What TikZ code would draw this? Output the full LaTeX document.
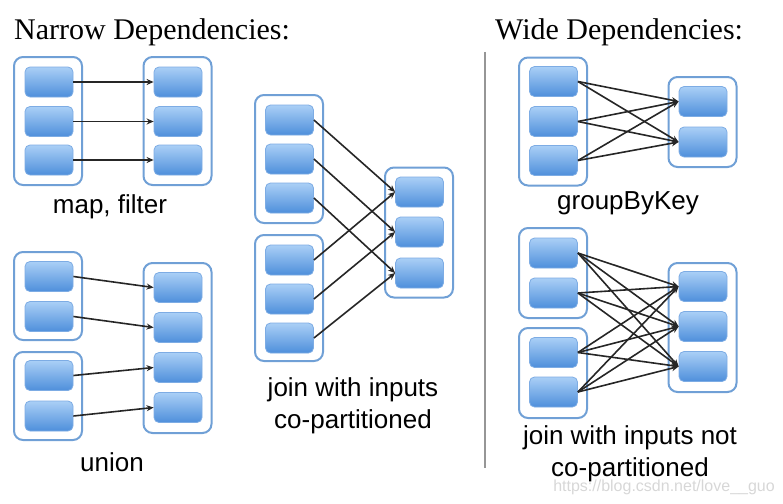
\documentclass[tikz,border=0pt]{standalone}
\usepackage{fontspec}
\setmainfont{Liberation Serif}
\setsansfont{Liberation Sans}
\usetikzlibrary{arrows.meta}
\definecolor{ptop}{RGB}{170,207,246}
\definecolor{pbot}{RGB}{78,143,219}
\definecolor{partb}{RGB}{125,172,228}
\definecolor{rddb}{RGB}{112,160,214}
\definecolor{sepline}{RGB}{150,150,150}
\definecolor{wmark}{RGB}{215,215,215}
\tikzset{
  part/.style={draw=partb, line width=0.8pt, rounded corners=5pt, top color=ptop, bottom color=pbot, minimum width=48pt, minimum height=30pt, inner sep=0pt},
  rdd/.style={draw=rddb, line width=2pt, rounded corners=9pt, fill=white, minimum width=68pt, inner sep=0pt},
  dep/.style={-{Stealth[length=7pt,width=6pt]}, line width=1.6pt, black!85},
  lbl/.style={font=\sffamily\fontsize{26}{32}\selectfont, align=center, inner sep=0pt},
  ttl/.style={font=\fontsize{30}{32}\selectfont, inner sep=0pt, anchor=base west}
}
\begin{document}
\begin{tikzpicture}[x=1pt,y=-1pt]
\useasboundingbox (0,0) rectangle (783,503);
% titles
\node[ttl] (t1) at (14,40) {Narrow Dependencies:};
\node[ttl] (t2) at (495,40) {Wide Dependencies:};
\draw[sepline, line width=2.5pt] (485,52) coordinate (s1) -- (485,468) coordinate (s2);

% ---------- map, filter ----------
\node[rdd, minimum height=128pt] (mLo) at (48,121) {};
\node[rdd, minimum height=128pt] (mRo) at (177.5,121) {};
\foreach \i/\y in {1/82,2/121.5,3/160}{
  \node[part] (mL\i) at (49,\y) {};
  \node[part] (mR\i) at (178,\y) {};
}
\foreach \i in {1,2,3}{ \draw[dep] (mL\i.east) -- (mR\i.west); }
\node[lbl] (lmap) at (110,207) {map, filter};

% ---------- union ----------
\node[rdd, minimum height=88pt] (uLa) at (48,296) {};
\node[rdd, minimum height=88pt] (uLb) at (48,396) {};
\node[rdd, minimum height=170pt] (uRo) at (177.5,348) {};
\foreach \i/\y in {1/276.5,2/316.5,3/375.5,4/416}{ \node[part] (uL\i) at (49,\y) {}; }
\foreach \i/\y in {1/287.5,2/327.5,3/367.5,4/407.5}{ \node[part] (uR\i) at (178,\y) {}; }
\foreach \i in {1,2,3,4}{ \draw[dep] (uL\i.east) -- (uR\i.west); }
\node[lbl] (lunion) at (112,462) {union};

% ---------- join co-partitioned ----------
\node[rdd, minimum height=128pt] (jLa) at (289,159) {};
\node[rdd, minimum height=126pt] (jLb) at (289,298) {};
\node[rdd, minimum height=130pt] (jRo) at (419,232.5) {};
\foreach \i/\y in {1/120,2/159,3/198}{ \node[part] (jA\i) at (289.5,\y) {}; }
\foreach \i/\y in {1/260,2/299,3/338}{ \node[part] (jB\i) at (289.5,\y) {}; }
\foreach \i/\y in {1/192,2/232,3/273}{ \node[part] (jR\i) at (419.5,\y) {}; }
\foreach \i in {1,2,3}{
  \draw[dep] (jA\i.east) -- (jR\i.west);
  \draw[dep] (jB\i.east) -- (jR\i.west);
}
\node[lbl] (ljoin) at (353,406) {join with inputs\\co-partitioned};

% ---------- groupByKey ----------
\node[rdd, minimum height=128pt] (gLo) at (553,121.5) {};
\node[rdd, minimum height=90pt] (gRo) at (702.5,122) {};
\foreach \i/\y in {1/81.5,2/121.5,3/160.5}{ \node[part] (gL\i) at (553.5,\y) {}; }
\foreach \i/\y in {1/101.5,2/142}{ \node[part] (gR\i) at (703,\y) {}; }
\foreach \i in {1,2,3}{ \foreach \j in {1,2}{ \draw[dep] (gL\i.east) -- (gR\j.west); } }
\node[lbl] (lgroup) at (628,203) {groupByKey};

% ---------- join not co-partitioned ----------
\node[rdd, minimum height=90pt] (wLa) at (553,273) {};
\node[rdd, minimum height=90pt] (wLb) at (553,373) {};
\node[rdd, minimum height=129pt] (wRo) at (702.5,327.5) {};
\foreach \i/\y in {1/253,2/293,3/352.5,4/392}{ \node[part] (wL\i) at (553.5,\y) {}; }
\foreach \i/\y in {1/286.5,2/326.5,3/366.5}{ \node[part] (wR\i) at (703,\y) {}; }
\foreach \i in {1,2,3,4}{ \foreach \j in {1,2,3}{ \draw[dep] (wL\i.east) -- (wR\j.west); } }
\node[lbl] (lwide) at (630,454) {join with inputs not\\co-partitioned};

% watermark
\node[font=\sffamily\fontsize{16}{20}\selectfont, text=wmark, inner sep=0pt] (wm) at (664,487) {https://blog.csdn.net/love\_\_guo};
\end{tikzpicture}
\end{document}
